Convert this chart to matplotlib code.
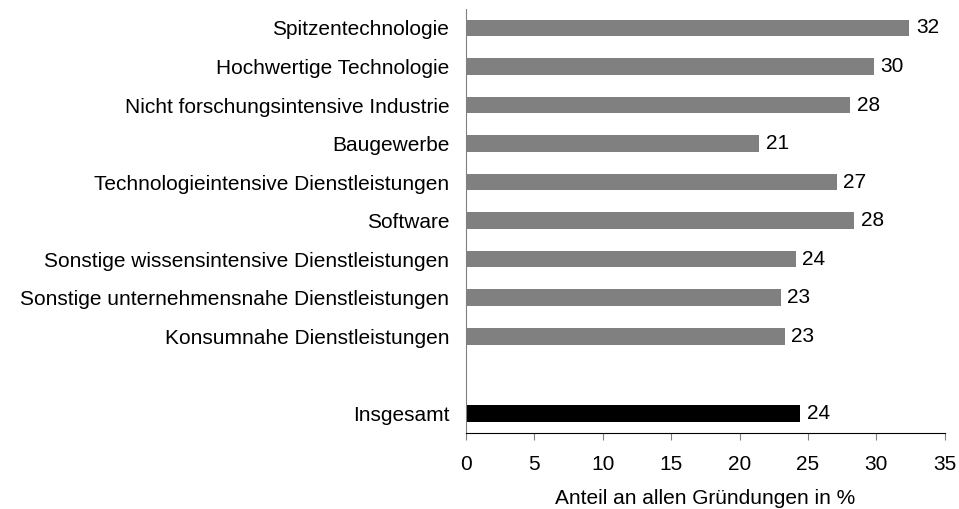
import matplotlib.pyplot as plt

plt.rcParams['font.family'] = ['Liberation Sans', 'DejaVu Sans']

# Daten
kategorien = ['Spitzentechnologie', 'Hochwertige Technologie',
              'Nicht forschungsintensive Industrie', 'Baugewerbe',
              'Technologieintensive Dienstleistungen', 'Software',
              'Sonstige wissensintensive Dienstleistungen',
              'Sonstige unternehmensnahe Dienstleistungen',
              'Konsumnahe Dienstleistungen', '', 'Insgesamt']
werte = [32.4, 29.8, 28.1, 21.4, 27.1, 28.4, 24.1, 23.0, 23.3, None, 24.4]
beschriftung = ['32', '30', '28', '21', '27', '28', '24', '23', '23', '', '24']
xticks = [0, 5, 10, 15, 20, 25, 30, 35]

fs = 15

fig = plt.figure(figsize=(9.59, 5.09), dpi=100)
ax = fig.add_axes([0.486, 0.15, 0.499, 0.833])

pos = list(range(len(kategorien)))
for i, (w, txt) in enumerate(zip(werte, beschriftung)):
    if w is None:
        continue
    farbe = 'black' if kategorien[i] == 'Insgesamt' else '#808080'
    ax.barh(i, w, height=0.43, color=farbe)
    ax.text(w + 0.5, i, txt, va='center', ha='left', fontsize=fs)

ax.set_ylim(len(kategorien) - 0.5, -0.5)
ax.set_xlim(0, 35)
ax.set_yticks(pos)
ax.set_yticklabels(kategorien, fontsize=fs)
ax.set_xticks(xticks)
ax.set_xticklabels([str(t) for t in xticks], fontsize=fs)
ax.tick_params(axis='y', length=0, pad=12)
ax.tick_params(axis='x', direction='out', length=5, pad=11, color='#808080')
ax.set_xlabel('Anteil an allen Gründungen in %', fontsize=fs, labelpad=11)

ax.spines['top'].set_visible(False)
ax.spines['right'].set_visible(False)
ax.spines['left'].set_color('#808080')
ax.spines['bottom'].set_color('black')

fig.savefig('out.png', dpi=100)
